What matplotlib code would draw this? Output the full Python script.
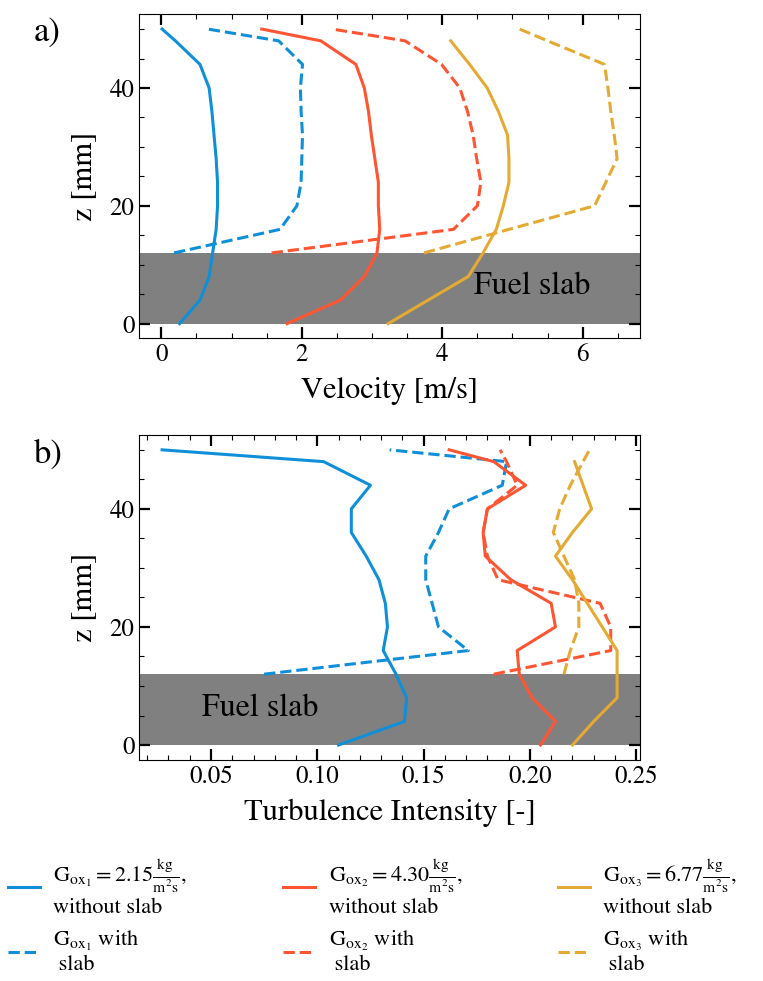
import matplotlib
matplotlib.use("Agg")
import matplotlib.pyplot as plt
from matplotlib.ticker import AutoMinorLocator

plt.rcParams['font.family'] = 'STIXGeneral'
plt.rcParams['mathtext.fontset'] = 'stix'

# heights [mm]
z_full = [0, 4, 8, 12, 16, 20, 24, 28, 32, 36, 40, 44, 48, 50]
z_slab = [12, 16, 20, 24, 28, 32, 36, 40, 44, 48, 50]
z_full48 = z_full[:-1]

# a) velocity [m/s]
vel_g1 = [0.26, 0.55, 0.68, 0.73, 0.78, 0.80, 0.80, 0.78, 0.75, 0.72, 0.68, 0.55, 0.20, 0.01]
vel_g1_slab = [0.18, 1.69, 1.93, 1.99, 2.00, 2.01, 1.99, 1.98, 2.01, 1.67, 0.66]
vel_g2 = [1.79, 2.55, 2.89, 3.07, 3.11, 3.09, 3.09, 3.04, 2.99, 2.95, 2.89, 2.77, 2.27, 1.43]
vel_g2_slab = [1.57, 4.16, 4.50, 4.55, 4.49, 4.44, 4.36, 4.25, 3.99, 3.47, 2.43]
vel_g3 = [3.23, 3.80, 4.37, 4.58, 4.77, 4.87, 4.95, 4.95, 4.93, 4.80, 4.64, 4.39, 4.12]
vel_g3_slab = [3.74, 4.95, 6.17, 6.33, 6.49, 6.45, 6.40, 6.36, 6.31, 5.50, 5.10]

# b) turbulence intensity [-]
ti_g1 = [0.110, 0.141, 0.142, 0.137, 0.131, 0.133, 0.132, 0.129, 0.123, 0.116, 0.116, 0.125, 0.103, 0.027]
ti_g1_slab = [0.075, 0.171, 0.157, 0.154, 0.151, 0.151, 0.157, 0.162, 0.187, 0.189, 0.134]
ti_g2 = [0.205, 0.212, 0.201, 0.195, 0.194, 0.212, 0.210, 0.191, 0.179, 0.178, 0.180, 0.198, 0.183, 0.162]
ti_g2_slab = [0.183, 0.238, 0.238, 0.233, 0.185, 0.180, 0.178, 0.180, 0.194, 0.189, 0.186]
ti_g3 = [0.220, 0.230, 0.241, 0.241, 0.241, 0.234, 0.227, 0.220, 0.212, 0.220, 0.229, 0.225, 0.221]
ti_g3_slab = [0.216, 0.219, 0.223, 0.223, 0.221, 0.216, 0.211, 0.214, 0.219, 0.225, 0.228]

colors = ['#0F8FD8', '#FF5533', '#E4AA33']
labels = [r'$\mathrm{G_{ox_1}} = 2.15\frac{\mathrm{kg}}{\mathrm{m^2s}}$,' + '\nwithout slab',
          r'$\mathrm{G_{ox_2}} = 4.30\frac{\mathrm{kg}}{\mathrm{m^2s}}$,' + '\nwithout slab',
          r'$\mathrm{G_{ox_3}} = 6.77\frac{\mathrm{kg}}{\mathrm{m^2s}}$,' + '\nwithout slab']
labels_slab = [r'$\mathrm{G_{ox_1}}$ with' + '\n slab',
               r'$\mathrm{G_{ox_2}}$ with' + '\n slab',
               r'$\mathrm{G_{ox_3}}$ with' + '\n slab']

fig = plt.figure(figsize=(7.63, 9.81), dpi=100)
axA = fig.add_axes([0.1826, 0.6551, 0.656, 0.3303])
axB = fig.add_axes([0.1826, 0.2255, 0.656, 0.3310])

lw = 2.2
full_a = [(vel_g1, z_full), (vel_g2, z_full), (vel_g3, z_full48)]
slab_a = [vel_g1_slab, vel_g2_slab, vel_g3_slab]
full_b = [(ti_g1, z_full), (ti_g2, z_full), (ti_g3, z_full48)]
slab_b = [ti_g1_slab, ti_g2_slab, ti_g3_slab]

handles = []
for i in range(3):
    h1, = axA.plot(full_a[i][0], full_a[i][1], color=colors[i], lw=lw, label=labels[i])
    h2, = axA.plot(slab_a[i], z_slab, color=colors[i], lw=lw, ls='--', label=labels_slab[i])
    axB.plot(full_b[i][0], full_b[i][1], color=colors[i], lw=lw)
    axB.plot(slab_b[i], z_slab, color=colors[i], lw=lw, ls='--')
    handles.append([h1, h2])

for ax in (axA, axB):
    ax.axhspan(0, 12, color='gray', zorder=0, lw=0)
    ax.xaxis.set_minor_locator(AutoMinorLocator())
    ax.yaxis.set_minor_locator(AutoMinorLocator())
    ax.tick_params(which='both', direction='in', top=True, right=True, labelsize=18)
    ax.tick_params(which='major', length=8, width=1.6)
    ax.tick_params(which='minor', length=3.5, width=0.8)
    ax.set_ylabel('z [mm]', fontsize=22, labelpad=8)
    ax.set_yticks([0, 20, 40])

axA.set_xticks([0, 2, 4, 6])
axA.set_xlabel('Velocity [m/s]', fontsize=22, labelpad=7)
axB.set_xticks([0.05, 0.10, 0.15, 0.20, 0.25])
axB.set_xlabel('Turbulence Intensity [-]', fontsize=22, labelpad=7)

axA.text(4.45, 6.3, 'Fuel slab', fontsize=23, va='center')
axB.text(0.046, 6.3, 'Fuel slab', fontsize=23, va='center')

fig.text(0.044, 0.967, 'a)', fontsize=25, va='center')
fig.text(0.044, 0.536, 'b)', fontsize=25, va='center')

# one legend per flux, side by side
for i, x0 in enumerate([0.010, 0.371, 0.731]):
    fig.legend(handles=handles[i], loc='upper left', bbox_to_anchor=(x0, 0.126),
               frameon=False, fontsize=16, handlelength=1.45, handletextpad=0.6,
               labelspacing=0.5, borderpad=0.0, borderaxespad=0.0)

fig.savefig('out.png', dpi=100)
